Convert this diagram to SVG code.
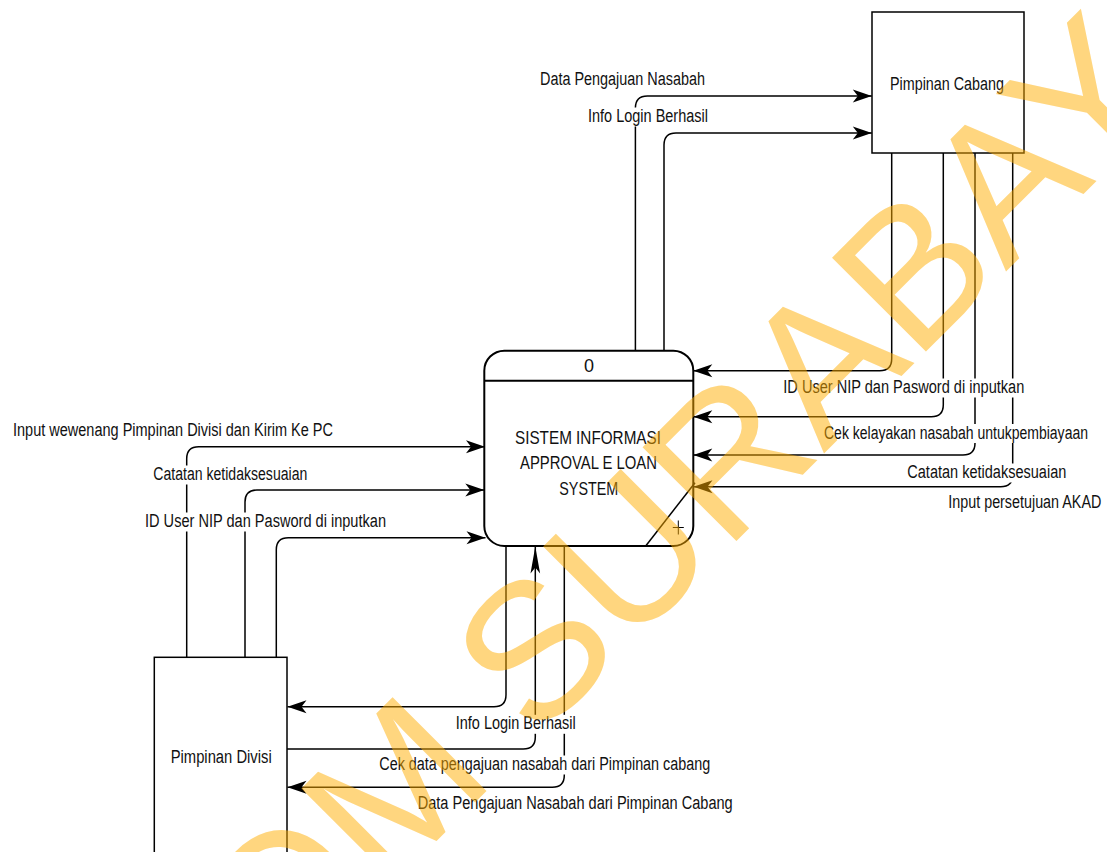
<svg xmlns="http://www.w3.org/2000/svg" width="1107" height="852" viewBox="0 0 1107 852">
<style>
.box{fill:#fff;stroke:#000;stroke-width:1.5}
.proc{fill:#fff;stroke:#000;stroke-width:2}
.conn{fill:none;stroke:#000;stroke-width:1.5}
.t{font-family:"Liberation Sans Narrow","Liberation Sans",Arial,sans-serif;font-size:18px;fill:#111}
.bg{fill:#fff}
.wm{font-family:"Liberation Sans",Arial,sans-serif;font-size:193px;fill:#FFAD00;fill-opacity:0.5}
</style>
<defs>
<marker id="arr" markerUnits="userSpaceOnUse" markerWidth="22" markerHeight="16" viewBox="-21 -8 22 16" refX="0" refY="0" orient="auto">
<path d="M0,0 L-19,-6.5 L-14,0 L-19,6.5 Z" fill="#000"/>
</marker>
<marker id="arrLong" markerUnits="userSpaceOnUse" markerWidth="30" markerHeight="12" viewBox="-29 -6 30 12" refX="0" refY="0" orient="auto">
<path d="M0,0 L-27,-4.8 L-21,0 L-27,4.8 Z" fill="#000"/>
</marker>
</defs>
<rect width="1107" height="852" fill="#fff"/>

<g id="pimpinan-cabang">
<rect class="box" x="872" y="12" width="152" height="141"/>
<text class="t" x="890" y="90" textLength="114" lengthAdjust="spacingAndGlyphs">Pimpinan Cabang</text>
</g>

<g id="pimpinan-divisi">
<rect class="box" x="154.3" y="657.3" width="132.7" height="210"/>
<text class="t" x="170.7" y="762.5" textLength="101" lengthAdjust="spacingAndGlyphs">Pimpinan Divisi</text>
</g>

<g id="process-0">
<rect class="proc" x="484.3" y="350.7" width="209" height="195.3" rx="20" ry="20"/>
<line x1="484.3" y1="380.7" x2="693.3" y2="380.7" stroke="#000" stroke-width="2"/>
<line x1="645.7" y1="546" x2="695" y2="482.7" stroke="#000" stroke-width="1.5"/>
<path d="M672.8,527.5 H683.8 M678.3,520.5 V534.5" stroke="#000" stroke-width="1" fill="none"/>
<text class="t" x="589" y="372" text-anchor="middle">0</text>
<text class="t" x="515" y="444.3" textLength="146" lengthAdjust="spacingAndGlyphs">SISTEM INFORMASI</text>
<text class="t" x="520" y="469.3" textLength="137" lengthAdjust="spacingAndGlyphs">APPROVAL E LOAN</text>
<text class="t" x="559.3" y="495" textLength="59" lengthAdjust="spacingAndGlyphs">SYSTEM</text>
</g>

<g id="connectors">
<path class="conn" marker-end="url(#arr)" d="M635.4,350.7 V108 Q635.4,96 647.4,96 H871.8"/>
<path class="conn" marker-end="url(#arr)" d="M664,350.7 V145 Q664,133 676,133 H871.8"/>
<path class="conn" marker-end="url(#arr)" d="M186.7,657.3 V458.7 Q186.7,446.7 198.7,446.7 H485"/>
<path class="conn" marker-end="url(#arr)" d="M245,657.3 V502 Q245,490 257,490 H484.3"/>
<path class="conn" marker-end="url(#arr)" d="M276.3,657.3 V549.7 Q276.3,537.7 288.3,537.7 H485.5"/>
<path class="conn" marker-end="url(#arr)" d="M891.7,153 V358.7 Q891.7,370.7 879.7,370.7 H693.3"/>
<path class="conn" marker-end="url(#arr)" d="M943.3,153 V404.7 Q943.3,416.7 931.3,416.7 H693.3"/>
<path class="conn" marker-end="url(#arr)" d="M975,153 V443 Q975,455 963,455 H693.3"/>
<path class="conn" marker-end="url(#arr)" d="M1012.7,153 V474.7 Q1012.7,486.7 1000.7,486.7 H693.5"/>
<path class="conn" marker-end="url(#arr)" d="M506,546 V694.7 Q506,706.7 494,706.7 H287.5"/>
<path class="conn" marker-end="url(#arrLong)" d="M287,749 H523.3 Q535.3,749 535.3,737 V546.5"/>
<path class="conn" marker-end="url(#arr)" d="M564.3,546 V775.3 Q564.3,787.3 552.3,787.3 H287.5"/>
</g>

<g id="connector-labels">
<rect class="bg" x="539" y="70" width="167" height="19"/>
<text class="t" x="540" y="84.5" textLength="165" lengthAdjust="spacingAndGlyphs">Data Pengajuan Nasabah</text>
<rect class="bg" x="587" y="107.5" width="122" height="19"/>
<text class="t" x="588" y="122" textLength="120" lengthAdjust="spacingAndGlyphs">Info Login Berhasil</text>
<rect class="bg" x="12" y="421.8" width="322" height="19"/>
<text class="t" x="13" y="436.3" textLength="320" lengthAdjust="spacingAndGlyphs">Input wewenang Pimpinan Divisi dan Kirim Ke PC</text>
<rect class="bg" x="152.3" y="465.5" width="156" height="19"/>
<text class="t" x="153.3" y="480" textLength="154" lengthAdjust="spacingAndGlyphs">Catatan ketidaksesuaian</text>
<rect class="bg" x="144" y="512.5" width="243" height="19"/>
<text class="t" x="145" y="527" textLength="241" lengthAdjust="spacingAndGlyphs">ID User NIP dan Pasword di inputkan</text>
<rect class="bg" x="782.3" y="378.5" width="243" height="19"/>
<text class="t" x="783.3" y="393" textLength="241" lengthAdjust="spacingAndGlyphs">ID User NIP dan Pasword di inputkan</text>
<rect class="bg" x="823" y="424" width="266" height="19"/>
<text class="t" x="824" y="438.5" textLength="264" lengthAdjust="spacingAndGlyphs">Cek kelayakan nasabah untukpembiayaan</text>
<rect class="bg" x="906.3" y="463.5" width="161" height="19"/>
<text class="t" x="907.3" y="478" textLength="159" lengthAdjust="spacingAndGlyphs">Catatan ketidaksesuaian</text>
<rect class="bg" x="947.3" y="493.5" width="155" height="19"/>
<text class="t" x="948.3" y="508" textLength="153" lengthAdjust="spacingAndGlyphs">Input persetujuan AKAD</text>
<rect class="bg" x="454.7" y="714.8" width="122" height="19"/>
<text class="t" x="455.7" y="729.3" textLength="120" lengthAdjust="spacingAndGlyphs">Info Login Berhasil</text>
<rect class="bg" x="378.3" y="755.5" width="333" height="19"/>
<text class="t" x="379.3" y="770" textLength="331" lengthAdjust="spacingAndGlyphs">Cek data pengajuan nasabah dari Pimpinan cabang</text>
<rect class="bg" x="416.7" y="794" width="317" height="19"/>
<text class="t" x="417.7" y="808.5" textLength="315" lengthAdjust="spacingAndGlyphs">Data Pengajuan Nasabah dari Pimpinan Cabang</text>
</g>

<g id="watermark">
<text class="wm" transform="translate(-25.5,1303) rotate(-45)">STIKOM SURABAYA</text>
</g>
</svg>
